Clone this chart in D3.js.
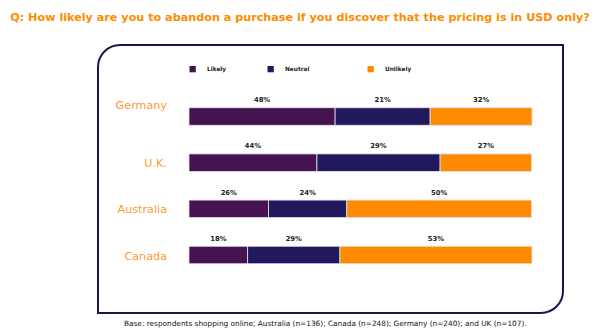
<!DOCTYPE html>
<html><head><meta charset="utf-8">
<script src="https://cdn.jsdelivr.net/npm/d3@7/dist/d3.min.js"></script>
<style>html,body{margin:0;padding:0;background:#fff;}svg{display:block;}</style>
</head><body>
<svg id="c" width="600" height="334"></svg>
<script>
// ---- data ----
const countries = ["Germany", "U.K.", "Australia", "Canada"];
const seriesNames = ["Likely", "Neutral", "Unlikely"];
// bar lengths as drawn in the picture (share of the bar, %)
const likely   = [42.6, 37.3, 23.2, 17.1];
const neutral  = [27.7, 35.9, 22.8, 26.9];
const unlikely = [29.7, 26.7, 53.9, 56.0];
// printed labels
const likelyLabels   = ["48%", "44%", "26%", "18%"];
const neutralLabels  = ["21%", "29%", "24%", "29%"];
const unlikelyLabels = ["32%", "27%", "50%", "53%"];
const title = "Q: How likely are you to abandon a purchase if you discover that the pricing is in USD only?";
const footnote = "Base: respondents shopping online; Australia (n=136); Canada (n=248); Germany (n=240); and UK (n=107).";

// ---- layout ----
const colors = ["#45134f", "#201a5c", "#ff8a00"];
const svg = d3.select("#c");
const font = "'DejaVu Sans', Verdana, sans-serif";

function fitText(sel, target) {
  const n = sel.node();
  const w = n.getComputedTextLength();
  const fs = parseFloat(sel.attr("font-size"));
  sel.attr("font-size", fs * target / w);
}

// title
const t = svg.append("text").attr("x", 300).attr("y", 21).attr("text-anchor", "middle")
  .attr("font-family", font).attr("font-weight", "bold").attr("font-size", 12)
  .attr("fill", "#ff8c00").text(title);
fitText(t, 580);

// frame
const L = 98, T = 45, R = 563, B = 313, r = 22;
const p = d3.path();
p.moveTo(L, B); p.lineTo(L, T + r); p.arcTo(L, T, L + r, T, r);
p.lineTo(R, T); p.lineTo(R, B - r); p.arcTo(R, B, R - r, B, r); p.closePath();
svg.append("path").attr("d", p.toString()).attr("fill", "none")
  .attr("stroke", "#1b1650").attr("stroke-width", 2);

// scales
const x = d3.scaleLinear().domain([0, 100]).range([189, 532]);
const y = d3.scalePoint().domain(countries).range([116.5, 255]);
const barH = 17.5;

const rows = countries.map((c, i) => {
  const vals = [likely[i], neutral[i], unlikely[i]];
  const labs = [likelyLabels[i], neutralLabels[i], unlikelyLabels[i]];
  let acc = 0;
  return vals.map((v, k) => { const s = acc; acc += v; return {c, k, x0: s, x1: acc, lab: labs[k]}; });
}).flat();

svg.append("g").selectAll("rect").data(rows).join("rect")
  .attr("x", d => x(d.x0)).attr("width", d => x(d.x1) - x(d.x0))
  .attr("y", d => y(d.c) - barH / 2).attr("height", barH)
  .attr("fill", d => colors[d.k]).attr("stroke", "#e8e0ee").attr("stroke-width", 0.8);

svg.append("g").selectAll("text").data(rows).join("text")
  .attr("x", d => (x(d.x0) + x(d.x1)) / 2).attr("y", d => y(d.c) - barH / 2 - 5.5)
  .attr("text-anchor", "middle").attr("font-family", font).attr("font-weight", "bold")
  .attr("font-size", 6.8).attr("fill", "#222").text(d => d.lab);

// country labels
const labelDy = [-11, 0, 0, 1.5];
svg.append("g").selectAll("text").data(countries).join("text")
  .attr("x", 167).attr("y", (d, i) => y(d) + labelDy[i]).attr("dy", "0.35em")
  .attr("text-anchor", "end").attr("font-family", font).attr("font-size", 11.2)
  .attr("fill", "#ff9a33").text(d => d);

// legend
const lx = [189.5, 267.5, 367.5];
const lg = svg.append("g").selectAll("g").data(seriesNames).join("g")
  .attr("transform", (d, i) => `translate(${lx[i]},66)`);
lg.append("rect").attr("width", 6.3).attr("height", 6.3).attr("fill", (d, i) => colors[i]);
lg.append("text").attr("x", 17.5).attr("y", 5).attr("font-family", font)
  .attr("font-size", 5.8).attr("font-weight", "bold").attr("fill", "#222").text(d => d);

// footnote
const f = svg.append("text").attr("x", 124).attr("y", 326).attr("font-family", font)
  .attr("font-size", 7).attr("fill", "#111").text(footnote);
fitText(f, 403);
</script>
</body></html>
